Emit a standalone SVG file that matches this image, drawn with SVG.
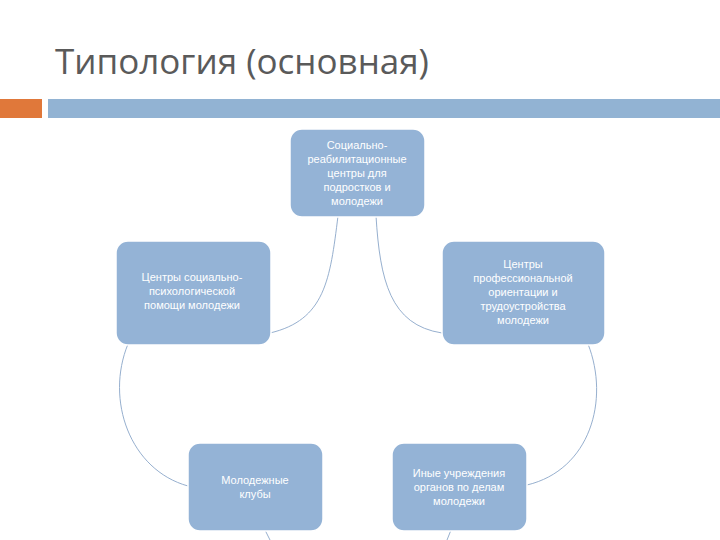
<svg xmlns="http://www.w3.org/2000/svg" width="720" height="540" viewBox="0 0 720 540">
<style>
.n rect{fill:#94b3d6;stroke:#fff;stroke-width:1.5}
.n text{fill:#fff;font-family:"Liberation Sans",sans-serif;font-size:11px;text-anchor:middle}
#c path{fill:none;stroke:#8aa6c8;stroke-width:0.9}
</style>
<rect width="720" height="540" fill="#fff"/>
<text x="55" y="74" font-family="Open Sans, Liberation Sans, sans-serif" font-size="35" fill="#5a5a5a">Типология (основная)</text>
<rect x="0" y="99" width="42" height="19" fill="#e0783a"/>
<rect x="48" y="99" width="672" height="19" fill="#92b3d3"/>
<g id="c">
<path d="M338 216 C330 280 325 320 270 333"/>
<path d="M376 216 C380 280 390 325 442 333"/>
<path d="M128 344 C105 400 130 470 188 486"/>
<path d="M588 344 C610 400 590 470 527 485"/>
<path d="M265 530 L270 540"/>
<path d="M451 530 L447 540"/>
</g>
<g id="n1" class="n"><rect x="290" y="129" width="135" height="88" rx="12"/>
<text x="357" y="149">Социально-</text><text x="357" y="163">реабилитационные</text><text x="357" y="177">центры для</text><text x="357" y="191">подростков и</text><text x="357" y="205">молодежи</text></g>
<g id="n2" class="n"><rect x="116" y="241" width="155" height="104" rx="12"/>
<text x="192" y="281">Центры социально-</text><text x="192" y="295">психологической</text><text x="192" y="309">помощи молодежи</text></g>
<g id="n3" class="n"><rect x="442" y="241" width="163" height="104" rx="12"/>
<text x="523" y="268">Центры</text><text x="523" y="282">профессиональной</text><text x="523" y="296">ориентации и</text><text x="523" y="310">трудоустройства</text><text x="523" y="324">молодежи</text></g>
<g id="n4" class="n"><rect x="188" y="443" width="135" height="88" rx="12"/>
<text x="255" y="484">Молодежные</text><text x="255" y="498">клубы</text></g>
<g id="n5" class="n"><rect x="392" y="443" width="135" height="88" rx="12"/>
<text x="459" y="477">Иные учреждения</text><text x="459" y="491">органов по делам</text><text x="459" y="505">молодежи</text></g>
</svg>
